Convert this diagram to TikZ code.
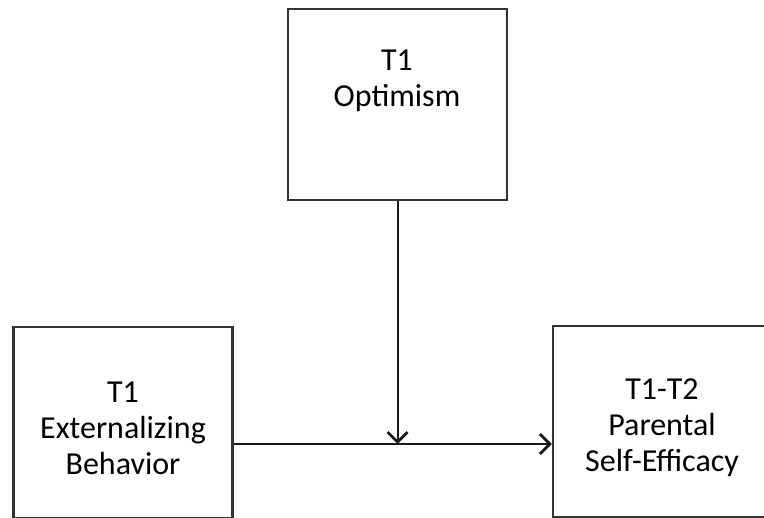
\documentclass[tikz,border=0pt]{standalone}
\usepackage{fontspec}
\setmainfont{Carlito}
\usetikzlibrary{positioning, arrows.meta, calc}

\begin{document}
\begin{tikzpicture}[
    x=1pt, y=-1pt,
    box/.style={draw=black!80, line width=2.2pt, minimum width=219pt, minimum height=191pt, inner sep=0pt},
    lbl/.style={align=center, font=\fontsize{32}{36}\selectfont, text=black},
    arrow/.style={-{Straight Barb[length=10pt, width=20pt, line width=2.8pt]}, line width=2pt, black!90}
]
    \useasboundingbox (0,0) rectangle (764,518);
    \clip (0,0) rectangle (764,518);

    % Boxes
    \node[box] (opt) at (397.5,104.5) {};
    \node[box] (ext) at (123,422.5) {};
    \node[box] (eff) at (662.5,421.5) {};

    % Labels
    \node[lbl] (optlbl) at (397,81) {T1\\Opt{}imism};
    \node[lbl] (extlbl) at (123,428) {T1\\Externalizing\\Behavior};
    \node[lbl] (efflbl) at (662,428) {T1-T2\\Parental\\Self-Efficacy};

    % Paths
    \coordinate (src) at ([yshift=-21.5pt]ext.east);
    \coordinate (dst) at (src -| eff.west);
    \coordinate (meet) at (src -| opt.south);
    \draw[arrow] (src) -- (dst);
    \draw[arrow] (opt.south) -- (meet);

\end{tikzpicture}
\end{document}
